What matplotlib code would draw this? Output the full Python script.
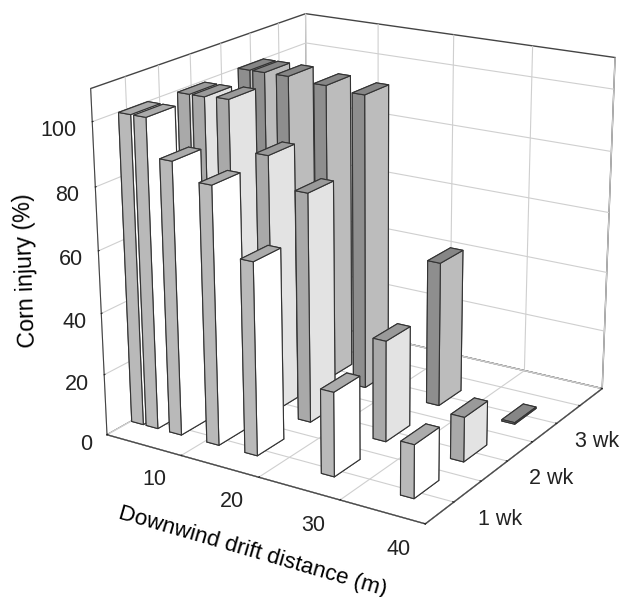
import numpy as np
import matplotlib
matplotlib.use('Agg')
import matplotlib.pyplot as plt

plt.rcParams['font.family'] = ['Liberation Sans', 'DejaVu Sans']
plt.rcParams['grid.color'] = '#cfcfcf'
plt.rcParams['grid.linewidth'] = 0.8

weeks = ['1 wk', '2 wk', '3 wk']
row_start = [0.37, 1.27, 2.27]
distance_near_edge = [1.7, 3.7, 6.9, 11.9, 16.9, 26.6, 36.2]
injury_1wk = [100, 100, 88, 83, 62, 27, 17]
injury_2wk = [99.5, 99.5, 100, 84.5, 75, 33, 14.5]
injury_3wk = [100, 100, 100, 99, 98, 48, 0.5]
injury = [injury_1wk, injury_2wk, injury_3wk]

W, H = 629, 597
fig = plt.figure(figsize=(W/100, H/100), dpi=100)
Sz = 614.42
ax = fig.add_axes([44.79/W, 34.81/H, Sz/W, Sz/H], projection='3d')
ax.view_init(elev=19.362, azim=-57.77, roll=0.168)
ax.set_proj_type('persp', focal_length=0.627)
ax.set_box_aspect((1, 0.992, 0.968))

ax.computed_zorder = False
left_c = ['#b9b9b9', '#a9a9a9', '#8e8e8e']
right_c = ['#ffffff', '#e3e3e3', '#bcbcbc']
top_c = ['#ababab', '#9a9a9a', '#868686']
dx, dy = 1.6, 0.44
z = 10
for k in [2, 1, 0]:
    for near, h in zip(distance_near_edge, injury[k]):
        cols = [top_c[k], top_c[k], left_c[k], left_c[k], right_c[k], right_c[k]]
        ax.bar3d(near-dx, row_start[k], 0, dx, dy, h, color=cols, shade=False,
                 edgecolor='#333333', linewidth=0.8, zorder=z)
        z += 1
ax.set_xlim(0, 40, view_margin=0)
ax.set_ylim(0, 3.5, view_margin=0)
ax.set_zlim(0, 110, view_margin=0)

ax.set_xticks([0, 10, 20, 30, 40], ['', '10', '20', '30', '40'])
ax.set_yticks(np.arange(0, 3.51, 0.5), ['', '', weeks[0], '', weeks[1], '', weeks[2], ''])
ax.set_zticks([0, 20, 40, 60, 80, 100])
ax.tick_params(labelsize=15.5, colors='#222222')
ax.zaxis.set_ticks_position('lower')
ax.zaxis.set_label_position('lower')
for a in (ax.xaxis, ax.yaxis, ax.zaxis):
    a.set_pane_color((1, 1, 1, 1))
    a.pane.set_edgecolor('#444444')
    a.pane.set_linewidth(1.0)
    a.line.set_color('#444444')
    a.set_rotate_label(False)
    a._axinfo['tick']['inward_factor'] = 0.0
    a._axinfo['tick']['outward_factor'] = 0.04
ax.set_xlabel('Downwind drift distance (m)', fontsize=16.2, rotation=-16.2, labelpad=16)
ax.set_zlabel('Corn injury (%)', fontsize=16.7, rotation=92, labelpad=10)

# mplot3d places these texts when it draws; nudge them by pixels at that moment
px_per_unit = 3321.19
def nudge(text, px, py):
    base = text.set_position
    text.set_position = lambda xy: base((xy[0] + px/px_per_unit, xy[1] + py/px_per_unit))
for t in ax.zaxis.get_major_ticks():
    t.label1.set_ha('right')
    nudge(t.label1, 11.5, 3.5)
for t in ax.xaxis.get_major_ticks():
    nudge(t.label1, -16, 10)
for t in ax.yaxis.get_major_ticks():
    nudge(t.label1, 2, -6)
nudge(ax.xaxis.label, 28, 4)
nudge(ax.zaxis.label, -1, 2)
fig.savefig('out.png', dpi=100)
